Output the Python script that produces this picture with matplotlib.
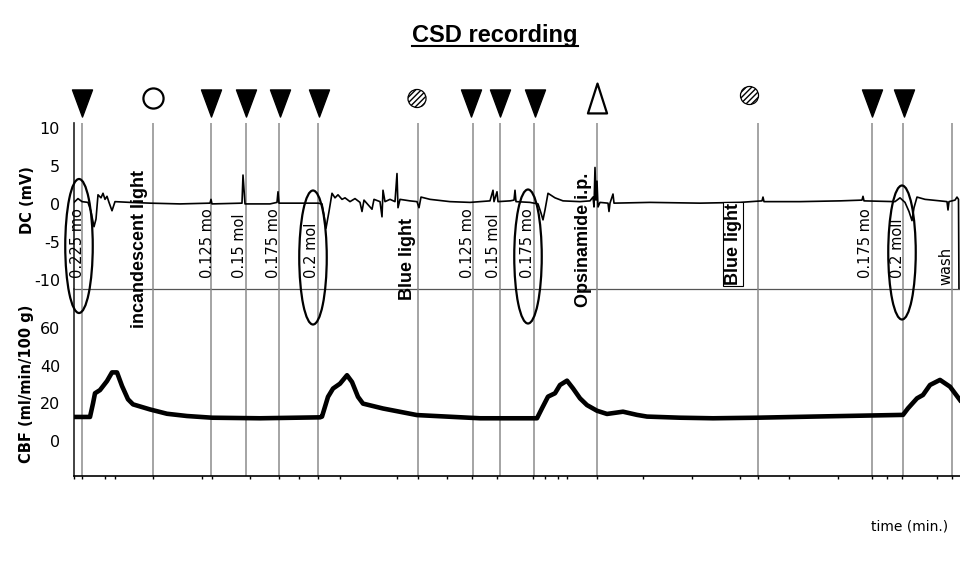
import matplotlib
matplotlib.use("Agg")
import matplotlib.pyplot as plt
from matplotlib.path import Path
from matplotlib.patches import Ellipse
from matplotlib.lines import Line2D

plt.rcParams["axes.unicode_minus"] = False

# DC potential trace (time in min, mV)
dc_t = [0.0, 0.8, 1.6, 2.8, 3.4, 4.0, 4.4, 4.8, 5.4, 5.8, 6.2, 6.6, 7.0, 7.6, 8.2,
        11.2, 15.2, 21.2, 27.2, 27.4, 27.6, 33.6, 33.8, 34.2, 39.2, 40.6, 40.8, 41.0,
        48.8, 49.6, 50.0, 50.4, 51.0, 51.6, 52.2, 52.8, 53.6, 54.2, 55.2, 56.2, 57.2,
        57.6, 58.0, 59.6, 60.0, 61.2, 61.6, 61.8, 62.2, 63.2, 64.2, 64.6, 64.8, 65.2,
        67.2, 68.6, 69.0, 69.4, 71.2, 75.2, 79.2, 83.2, 83.8, 84.0, 84.6, 84.8, 87.2,
        88.0, 88.2, 88.4, 91.2, 92.8, 93.4, 93.8, 94.2, 94.8, 96.2, 97.8, 101.2, 103.2,
        103.8, 104.0, 104.2, 104.4, 104.6, 104.8, 105.2, 106.8, 107.0, 107.2, 107.8,
        108.0, 115.2, 125.2, 133.2, 137.6, 137.8, 138.0, 145.2, 153.2, 157.6, 157.8,
        158.0, 164.2, 165.2, 166.2, 167.0, 167.6, 168.0, 168.6, 170.2, 173.2, 174.6,
        174.8, 175.0, 176.2, 176.6, 176.9, 177.0]
dc_mv = [0.2, 0.7, 0.3, 0.2, -1.0, -3.0, -2.0, 1.2, 0.8, 1.4, 0.6, 1.0, 0.2, -0.9, 0.3,
         0.2, 0.1, 0.0, 0.1, 0.6, 0.0, 0.1, 3.8, 0.0, 0.0, 0.2, 1.6, 0.1,
         0.1, 0.0, -1.5, -3.2, -1.0, 1.4, 0.8, 1.2, 0.6, 0.8, 0.3, 0.7, 0.2,
         -1.0, 0.5, -0.7, 0.6, 0.3, -1.7, 1.8, 0.3, 0.6, 0.3, 4.0, -0.5, 0.6,
         0.4, 0.3, -0.5, 0.9, 0.6, 0.3, 0.2, 0.4, 1.8, 0.3, 1.6, 0.3, 0.4,
         0.5, 1.8, 0.3, 0.2, 0.0, -1.2, -2.1, -0.8, 1.4, 0.8, 0.4, 0.3, 0.4,
         0.9, -0.4, 4.8, 0.5, 3.0, -0.4, 0.2, 0.1, -1.0, 0.1, 1.3,
         0.1, 0.2, 0.1, 0.2, 0.4, 0.9, 0.3, 0.3, 0.4, 0.5, 1.0,
         0.4, 0.3, 0.8, 0.2, -1.0, -2.2, -0.5, 0.9, 0.6, 0.4, 0.3,
         -0.8, 0.3, 0.5, 0.9, 0.6, -12.0]

# cerebral blood flow trace (time in min, ml/min/100 g)
cbf_t = [0.2, 3.2, 3.8, 4.2, 5.2, 6.6, 7.6, 8.6, 9.6, 10.8, 11.8, 15.2, 18.6, 22.6,
         27.6, 37.2, 49.2, 49.6, 50.8, 51.8, 53.2, 54.6, 55.6, 56.8, 57.8, 61.8, 68.6,
         81.2, 92.6, 93.6, 94.8, 96.2, 97.2, 98.6, 99.8, 101.2, 102.6, 104.6, 106.6,
         109.8, 112.6, 114.6, 121.2, 127.8, 136.6, 147.8, 157.8, 165.8, 166.8, 168.6,
         169.8, 171.2, 173.2, 175.2, 177.2]
cbf_val = [12.8, 12.8, 20.0, 25.4, 27.1, 31.9, 36.5, 36.5, 29.3, 22.2, 19.5, 16.8, 14.5,
           13.3, 12.4, 12.1, 12.6, 13.0, 23.5, 27.9, 30.5, 35.0, 31.4, 23.5, 19.9, 17.3,
           13.8, 12.1, 12.1, 17.4, 23.6, 25.4, 29.8, 32.1, 28.0, 22.7, 19.1, 16.1, 14.4,
           15.6, 13.9, 13.0, 12.4, 12.1, 12.4, 13.0, 13.5, 13.9, 17.4, 22.7, 24.5, 29.8,
           32.5, 28.9, 21.8]

# events
event_times = [1.6, 15.8, 27.4, 34.4, 41.0, 48.8, 68.8, 79.8, 85.2, 92.0, 104.6,
               136.8, 159.6, 165.8, 175.6]
event_labels = ["0.225 mo", "incandescent light", "0.125 mo", "0.15 mol", "0.175 mo",
                "0.2 mol", "Blue light", "0.125 mo", "0.15 mol", "0.175 mo",
                "Opsinamide i.p.", "Blue light", "0.175 mo", "0.2 moll", "wash"]
event_bold = [False, True, False, False, False, False, True, False, False, False,
              True, True, False, False, False]

drop_times = [1.6, 27.4, 34.4, 41.2, 49.0, 79.4, 85.2, 92.2, 159.6, 166.0]
light_times = [15.7]
blue_times = [68.6, 135.1]
drug_times = [104.6]
csd_times = [1.0, 47.8, 90.8, 165.6]

tick_times = [0, 1.6, 6.2, 8.2, 15.8, 25.6, 27.6, 35.2, 41.0, 45.0, 48.8, 53.2, 64.6,
              68.8, 74.6, 79.6, 84.6, 91.8, 94.2, 96.8, 98.6, 104.6, 113.8, 123.6,
              133.2, 136.8, 143.0, 152.8, 159.6, 162.6, 165.6, 172.6, 175.6]
dc_ticks = [10, 5, 0, -5, -10]
cbf_ticks = [60, 40, 20, 0]

W, H = 960, 562
fig = plt.figure(figsize=(9.6, 5.62), dpi=100)


def box(x0, y0, x1, y1):
    # pixel box (origin top-left) -> figure fraction
    return [x0 / W, 1 - y1 / H, (x1 - x0) / W, (y1 - y0) / H]


tmax = 177.2
ax_dc = fig.add_axes(box(74, 123, 960, 289))
ax_cbf = fig.add_axes(box(74, 289, 960, 476))
ov = fig.add_axes([0, 0, 1, 1])
ov.set_xlim(-74 / 5, tmax)
ov.set_ylim(H, 0)
ov.axis("off")
ov.patch.set_visible(False)

for ax in (ax_dc, ax_cbf):
    ax.set_xlim(0, tmax)
    ax.patch.set_visible(False)
    ax.spines["top"].set_visible(False)
    ax.spines["right"].set_visible(False)
    ax.spines["left"].set_color("#222222")
    ax.spines["left"].set_linewidth(1.2)
    ax.tick_params(axis="y", length=0, pad=10, labelsize=11.5)
    for t in event_times:
        ax.axvline(t, color="#8c8c8c", lw=1.1, zorder=1)

ax_dc.set_ylim(-11.2, 10.65)
ax_dc.set_yticks(dc_ticks)
ax_dc.set_xticks([])
ax_dc.spines["bottom"].set_color("#555555")
ax_dc.spines["bottom"].set_linewidth(0.9)
ax_dc.plot(dc_t, dc_mv, color="black", lw=1.2, zorder=3)

ax_cbf.set_ylim(-18.6, 80.85)
ax_cbf.set_yticks(cbf_ticks)
ax_cbf.set_xticks(tick_times)
ax_cbf.tick_params(axis="x", length=2.5, width=1, labelbottom=False)
ax_cbf.spines["bottom"].set_linewidth(1.2)
ax_cbf.plot(cbf_t, cbf_val, color="black", lw=3.3, solid_joinstyle="round", zorder=3)

# CSD ellipses
csd_yc = [246, 257.5, 256.5, 252.5]
for t, yc in zip(csd_times, csd_yc):
    ov.add_patch(Ellipse((t, yc), 5.5, 134, fill=False, ec="black", lw=1.6))

# markers above the trace
tri_down = Path([(-0.37, 0.5), (0.37, 0.5), (0, -0.5), (-0.37, 0.5)],
                [Path.MOVETO, Path.LINETO, Path.LINETO, Path.CLOSEPOLY])
tri_up = Path([(-0.32, -0.5), (0.32, -0.5), (0, 0.5), (-0.32, -0.5)],
              [Path.MOVETO, Path.LINETO, Path.LINETO, Path.CLOSEPOLY])
ov.plot(drop_times, [102.5] * len(drop_times), ls="none", marker=tri_down,
        ms=19.5, color="black")
ov.plot(light_times, [97.5], ls="none", marker="o", ms=14.5, mfc="white",
        mec="black", mew=1.6)
ov.scatter(blue_times, [98.5, 95.5], s=13 ** 2, marker="o", facecolors="white",
           edgecolors="black", linewidths=0.9, hatch="//////", zorder=3)
ov.plot(drug_times, [98], ls="none", marker=tri_up, ms=21.5, mfc="white",
        mec="black", mew=1.6)

# event labels (shift left of line in px, bottom in px)
shift = [5, 13, 4, 6, 6, 7, 11, 6, 7, 6, 14, 25, 6, 5, 6]
bottom = [278, 328, 278, 278, 278, 278, 300, 278, 278, 278, 307, 285, 278, 278, 285]
for t, lab, b, s, yb in zip(event_times, event_labels, event_bold, shift, bottom):
    kw = dict(rotation=90, ha="center", va="bottom", zorder=4)
    if b:
        kw.update(fontsize=13, fontweight="bold", family="Liberation Sans")
    else:
        kw.update(fontsize=10.5, family="DejaVu Sans")
    if lab == "Blue light" and t > 100:
        kw["bbox"] = dict(boxstyle="square,pad=0.08", fc="white", ec="black", lw=0.8)
    ov.text(t - s / 5, yb, lab, **kw)

# axis titles
fig.text(28 / W, 1 - 200 / H, "DC (mV)", rotation=90, ha="center", va="center",
         fontsize=10.5, fontweight="bold")
fig.text(26 / W, 1 - 384 / H, "CBF (ml/min/100 g)", rotation=90, ha="center",
         va="center", fontsize=10.5, fontweight="bold")
fig.text(910 / W, 1 - 527 / H, "time (min.)", ha="center", va="center", fontsize=10)

title = fig.text(495 / W, 1 - 42 / H, "CSD recording", ha="center", va="baseline",
                 fontsize=17, fontweight="bold", family="Liberation Sans")
fig.canvas.draw()
bb = title.get_window_extent()
fig.add_artist(Line2D([bb.x0 / W, bb.x1 / W], [1 - 45.5 / H] * 2, color="black", lw=1.5))

fig.savefig("out.png", dpi=100)
